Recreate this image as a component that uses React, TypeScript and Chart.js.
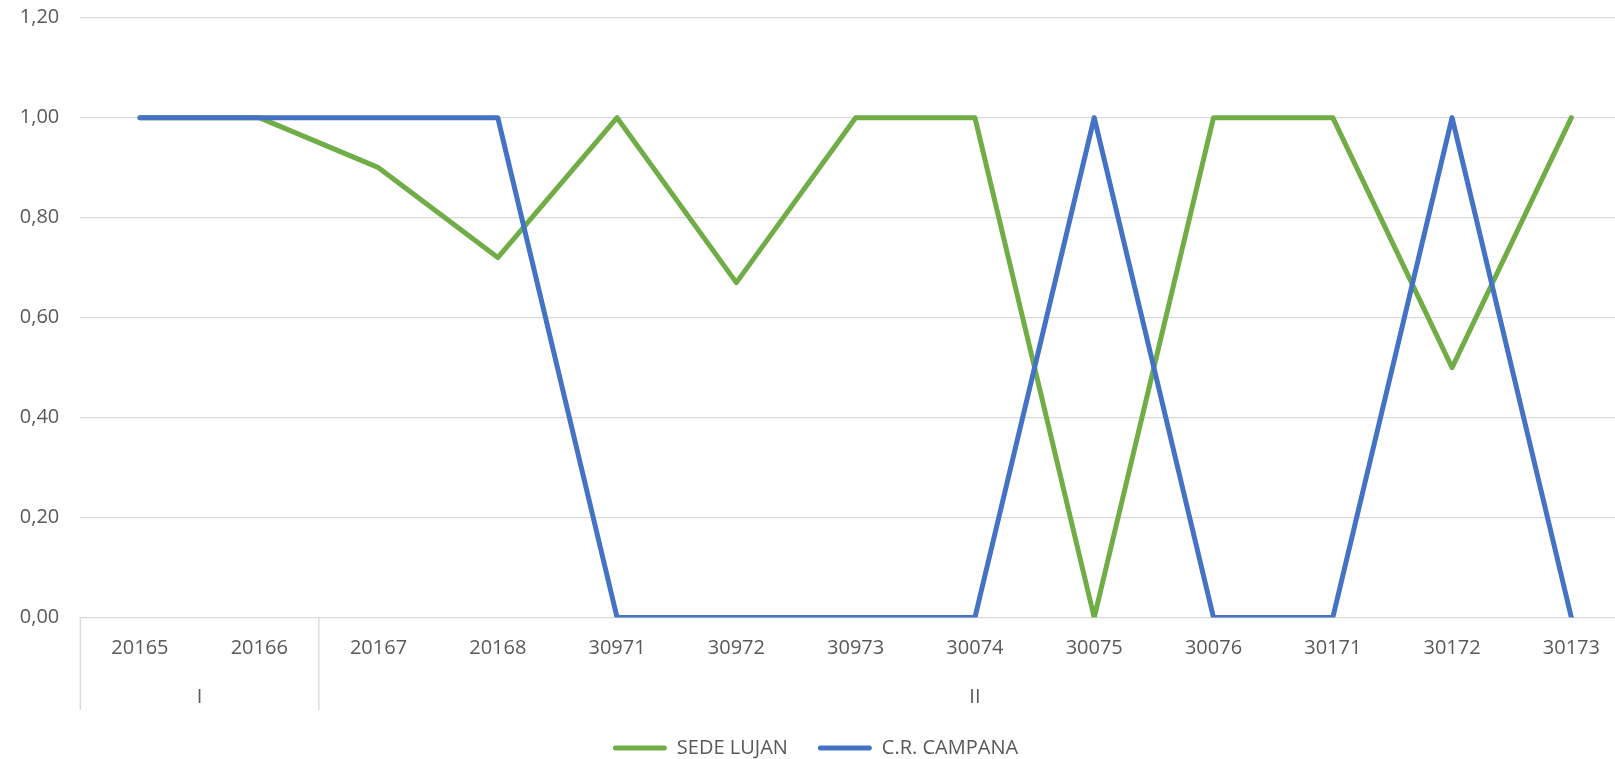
import React, { useEffect, useRef } from "react";
import { Chart, registerables } from "chart.js";

Chart.register(...registerables);

const categories = ["20165", "20166", "20167", "20168", "30971", "30972", "30973", "30074", "30075", "30076", "30171", "30172", "30173"];
const groupLabels = ["I", "II"];
const groupSizes = [2, 11];
const sedeLujan = [1, 1, 0.9, 0.72, 1, 0.67, 1, 1, 0, 1, 1, 0.5, 1];
const crCampana = [1, 1, 1, 1, 0, 0, 0, 0, 1, 0, 0, 1, 0];
const yTicks = { min: 0, max: 1.2, step: 0.2 };

const CANVAS_W = 1640;
const CANVAS_H = 770;
const PAD_BOTTOM = 2;
const FONT = "'Open Sans', sans-serif";
const TEXT = "#595959";
const GRID = "#D9D9D9";

const groupPlugin = {
  id: "groupAxis",
  afterDraw(chart: any) {
    const x = chart.scales.x;
    const ctx = chart.ctx;
    const area = chart.chartArea;
    const half = (x.getPixelForTick(1) - x.getPixelForTick(0)) / 2;
    ctx.save();
    ctx.strokeStyle = GRID;
    ctx.lineWidth = 1.3;
    let idx = 0;
    const bounds: number[] = [x.getPixelForTick(0) - half];
    groupSizes.forEach((n) => {
      idx += n;
      bounds.push(x.getPixelForTick(idx - 1) + half);
    });
    bounds.forEach((b) => {
      ctx.beginPath();
      ctx.moveTo(b, area.bottom);
      ctx.lineTo(b, 710);
      ctx.stroke();
    });
    ctx.fillStyle = TEXT;
    ctx.font = `20px ${FONT}`;
    ctx.textAlign = "center";
    ctx.textBaseline = "middle";
    groupLabels.forEach((g, i) => {
      ctx.fillText(g, (bounds[i] + bounds[i + 1]) / 2, 697);
    });
    ctx.restore();
  },
};

export default function App() {
  const ref = useRef<HTMLCanvasElement | null>(null);
  useEffect(() => {
    if (!ref.current) return;
    const chart = new Chart(ref.current, {
      type: "line",
      data: {
        labels: categories,
        datasets: [
          {
            label: "SEDE LUJAN",
            data: sedeLujan,
            borderColor: "#70AD47",
            backgroundColor: "#70AD47",
            borderWidth: 5,
            borderJoinStyle: "round",
            borderCapStyle: "round",
            pointRadius: 0,
            tension: 0,
            order: 1,
          },
          {
            label: "C.R. CAMPANA",
            data: crCampana,
            borderColor: "#4472C4",
            backgroundColor: "#4472C4",
            borderWidth: 5,
            borderJoinStyle: "round",
            borderCapStyle: "round",
            pointRadius: 0,
            tension: 0,
            order: 0,
          },
        ],
      },
      options: {
        responsive: false,
        animation: false,
        devicePixelRatio: 1,
        layout: { padding: { left: 0, right: 9, top: 17.7, bottom: PAD_BOTTOM } },
        plugins: {
          tooltip: { enabled: false },
          legend: {
            position: "bottom",
            labels: {
              boxWidth: 54,
              boxHeight: 5,
              padding: 30,
              color: TEXT,
              font: { family: FONT, size: 20 },
              sort: (a: any, b: any) => a.datasetIndex - b.datasetIndex,
              generateLabels: (c: any) =>
                c.data.datasets.map((d: any, i: number) => ({
                  text: d.label,
                  fillStyle: d.borderColor,
                  strokeStyle: d.borderColor,
                  lineWidth: 0,
                  borderRadius: 2.5,
                  datasetIndex: i,
                  fontColor: TEXT,
                })),
            },
          },
        },
        scales: {
          x: {
            offset: true,
            grid: { display: false, drawTicks: false, tickLength: 0 },
            border: { display: false },
            ticks: {
              color: TEXT,
              font: { family: FONT, size: 20 },
              padding: 18.5,
              maxRotation: 0,
              autoSkip: false,
            },
            afterFit: (scale: any) => {
              const lh = scale.chart.legend ? scale.chart.legend.height : 0;
              scale.height = CANVAS_H - PAD_BOTTOM - lh - 617.5;
              scale.paddingLeft = 0;
              scale.paddingRight = 0;
            },
          },
          y: {
            min: yTicks.min,
            max: yTicks.max,
            grid: { color: GRID, lineWidth: 1.3, drawTicks: false, tickLength: 0 },
            border: { display: false },
            ticks: {
              stepSize: yTicks.step,
              color: TEXT,
              font: { family: FONT, size: 20 },
              padding: 21,
              callback: (v: any) => Number(v).toFixed(2).replace(".", ","),
            },
            afterFit: (scale: any) => {
              scale.width = 80.3;
              scale.paddingTop = 0;
              scale.paddingBottom = 0;
            },
          },
        },
      },
      plugins: [groupPlugin],
    });
    return () => chart.destroy();
  }, []);
  return (
    <div style={{ position: "fixed", left: 0, top: 0, width: 1615, height: 759, overflow: "hidden", background: "#fff" }}>
      <canvas ref={ref} width={CANVAS_W} height={CANVAS_H} style={{ width: CANVAS_W, height: CANVAS_H, display: "block" }} />
    </div>
  );
}
